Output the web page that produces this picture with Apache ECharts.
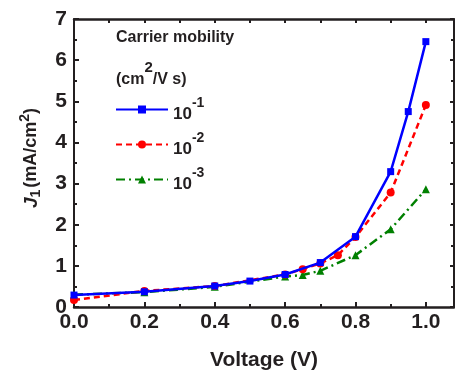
<!DOCTYPE html>
<html>
<head>
<meta charset="utf-8">
<script src="https://cdn.jsdelivr.net/npm/echarts@6/dist/echarts.min.js"></script>
<style>
  html, body { margin: 0; padding: 0; background: #fff; }
  #chart { width: 455px; height: 371px; }
</style>
</head>
<body>
<div id="chart"></div>
<script>
// Current density J1 vs applied voltage for three carrier mobilities
const voltageBlue = [0.0, 0.2, 0.4, 0.5, 0.6, 0.7, 0.8, 0.9, 0.95, 1.0];
const currentBlue = [0.29, 0.37, 0.51, 0.63, 0.79, 1.08, 1.71, 3.29, 4.75, 6.45];

const voltageRed = [0.0, 0.2, 0.4, 0.6, 0.65, 0.7, 0.75, 0.8, 0.9, 1.0];
const currentRed = [0.17, 0.39, 0.51, 0.79, 0.92, 1.06, 1.26, 1.70, 2.78, 4.91];

const voltageGreen = [0.0, 0.2, 0.4, 0.6, 0.65, 0.7, 0.8, 0.9, 1.0];
const currentGreen = [0.30, 0.36, 0.49, 0.74, 0.78, 0.88, 1.26, 1.89, 2.86];

const mobilityExponents = ['-1', '-2', '-3'];
const xTicks = [0.0, 0.2, 0.4, 0.6, 0.8, 1.0];

const INK = '#231f20';
const FONT = '"Liberation Sans", Arial, sans-serif';

function pairs(xs, ys) { return xs.map((x, i) => [x, ys[i]]); }

const chart = echarts.init(document.getElementById('chart'), null, { renderer: 'canvas' });

const tickStyle = { color: INK, width: 2 };

chart.setOption({
  animation: false,
  backgroundColor: '#fff',
  grid: { left: 74, right: 1, top: 19, bottom: 64, outerBoundsMode: 'none', containLabel: false },
  xAxis: [
    {
      type: 'value', min: 0, max: 1.08, interval: 0.2, position: 'bottom',
      splitLine: { show: false },
      name: 'Voltage (V)', nameLocation: 'middle', nameGap: 43,
      nameTextStyle: { fontFamily: FONT, fontWeight: 'bold', fontSize: 21, color: INK },
      axisLine: { show: true, onZero: false, lineStyle: { color: INK, width: 2.5 } },
      axisTick: { inside: true, length: 5, lineStyle: tickStyle },
      minorTick: { show: true, splitNumber: 2, length: 3, lineStyle: tickStyle },
      axisLabel: {
        showMaxLabel: false, margin: 5,
        fontFamily: FONT, fontWeight: 'bold', fontSize: 21, color: INK,
        formatter: v => xTicks.some(t => Math.abs(t - v) < 1e-9) ? v.toFixed(1) : ''
      }
    },
    {
      type: 'value', min: 0, max: 1.08, interval: 0.1, position: 'top',
      splitLine: { show: false },
      axisLine: { show: true, onZero: false, lineStyle: { color: INK, width: 2.5 } },
      axisTick: { inside: true, length: 4, lineStyle: tickStyle },
      axisLabel: { show: false }
    }
  ],
  yAxis: [
    {
      type: 'value', min: 0, max: 7, interval: 1, position: 'left',
      splitLine: { show: false },
      name: '{j|J}{sub|1}{n|(mA/cm}{sup|2}{n|)}',
      nameLocation: 'middle', nameRotate: 90, nameGap: 18,
      nameTextStyle: {
        fontFamily: FONT, fontWeight: 'bold', fontSize: 18, color: INK,
        padding: [0, 0, 0, 10],
        rich: {
          j: { fontFamily: FONT, fontWeight: 'bold', fontStyle: 'italic', fontSize: 19, color: INK, lineHeight: 26, verticalAlign: 'middle' },
          sub: { fontFamily: FONT, fontWeight: 'bold', fontSize: 14, color: INK, lineHeight: 26, verticalAlign: 'bottom', padding: [0, 2, 1, 0] },
          n: { fontFamily: FONT, fontWeight: 'bold', fontSize: 18, color: INK, lineHeight: 26, verticalAlign: 'middle' },
          sup: { fontFamily: FONT, fontWeight: 'bold', fontSize: 14, color: INK, lineHeight: 26, verticalAlign: 'top' }
        }
      },
      axisLine: { show: true, onZero: false, lineStyle: { color: INK, width: 2 } },
      axisTick: { inside: true, length: 5, lineStyle: tickStyle },
      minorTick: { show: true, splitNumber: 2, length: 3, lineStyle: tickStyle },
      axisLabel: { margin: 7, fontFamily: FONT, fontWeight: 'bold', fontSize: 21, color: INK }
    },
    {
      type: 'value', min: 0, max: 7, interval: 1, position: 'right',
      splitLine: { show: false },
      axisLine: { show: true, onZero: false, lineStyle: { color: INK, width: 2 } },
      axisTick: { inside: true, length: 4, lineStyle: tickStyle },
      minorTick: { show: true, splitNumber: 2, length: 3, lineStyle: tickStyle },
      axisLabel: { show: false }
    }
  ],
  legend: {
    orient: 'vertical', left: 110, top: 91,
    itemWidth: 52, itemHeight: 10, itemGap: 8,
    data: ['10' + mobilityExponents[0], '10' + mobilityExponents[1], '10' + mobilityExponents[2]],
    formatter: name => '{b|10}{s|' + name.slice(2) + '}',
    textStyle: {
      rich: {
        b: { fontFamily: FONT, fontWeight: 'bold', fontSize: 17, color: INK, lineHeight: 27, verticalAlign: 'bottom' },
        s: { fontFamily: FONT, fontWeight: 'bold', fontSize: 14, color: INK, lineHeight: 27, verticalAlign: 'top' }
      }
    }
  },
  graphic: [
    {
      type: 'text', left: 116, top: 30,
      style: { text: 'Carrier mobility', fontFamily: FONT, fontWeight: 'bold', fontSize: 16, fill: INK }
    },
    {
      type: 'text', left: 116, top: 60,
      style: {
        text: '{n|(cm}{s|2}{n|/V s)}',
        rich: {
          n: { fontFamily: FONT, fontWeight: 'bold', fontSize: 16, fill: INK, lineHeight: 28, verticalAlign: 'bottom' },
          s: { fontFamily: FONT, fontWeight: 'bold', fontSize: 15, fill: INK, lineHeight: 28, verticalAlign: 'top' }
        }
      }
    }
  ],
  series: [
    {
      name: '10' + mobilityExponents[0], type: 'line',
      data: pairs(voltageBlue, currentBlue),
      symbol: 'rect', symbolSize: 7,
      lineStyle: { color: '#0000ff', width: 2.5, type: 'solid' },
      itemStyle: { color: '#0000ff' }, z: 4
    },
    {
      name: '10' + mobilityExponents[1], type: 'line',
      data: pairs(voltageRed, currentRed),
      symbol: 'circle', symbolSize: 8,
      lineStyle: { color: '#ff0000', width: 2.5, type: [6, 4] },
      itemStyle: { color: '#ff0000' }, z: 3
    },
    {
      name: '10' + mobilityExponents[2], type: 'line',
      data: pairs(voltageGreen, currentGreen),
      symbol: 'triangle', symbolSize: 8,
      lineStyle: { color: '#008000', width: 2.5, type: [9, 4, 2, 4] },
      itemStyle: { color: '#008000' }, z: 2
    }
  ]
});
</script>
</body>
</html>
